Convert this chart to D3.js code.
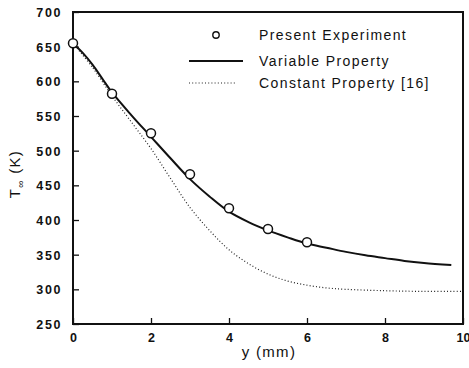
<!DOCTYPE html>
<html>
<head>
<meta charset="utf-8">
<script src="https://cdn.jsdelivr.net/npm/d3@7"></script>
<style>
  html, body { margin: 0; padding: 0; background: #fff; }
  svg { display: block; }
  text { font-family: "Liberation Sans", Arial, Helvetica, sans-serif; fill: #111; }
</style>
</head>
<body>
<svg id="chart" width="469" height="368"></svg>
<script>
// Data
const expX = [0, 1, 2, 3, 4, 5, 6];
const expY = [655, 582, 525, 466, 417, 387, 368];

const varX = [0, 0.25, 0.5, 0.75, 1, 1.5, 2, 2.5, 3, 3.5, 4, 4.5, 5, 5.5, 6, 6.5, 7, 7.5, 8, 8.5, 9, 9.7];
const varY = [655, 641, 624, 604, 584, 551, 520, 489, 459, 434, 412, 397, 385, 375, 366, 360, 354, 349, 345, 341, 338, 335];

const conX = [0, 0.5, 1, 1.5, 2, 2.5, 3, 3.5, 4, 4.5, 5, 5.5, 6, 6.5, 7, 8, 9, 10];
const conY = [655, 620, 579, 541, 503, 460, 418, 385, 357, 337, 322, 312, 306, 302, 300, 298, 297, 297];

const xTicks = [0, 2, 4, 6, 8, 10];
const yTicks = [250, 300, 350, 400, 450, 500, 550, 600, 650, 700];

const legendLabels = ["Present Experiment", "Variable Property", "Constant Property [16]"];

const svg = d3.select("#chart");
const mLeft = 73, mRight = 463, mTop = 12, mBottom = 324;

const x = d3.scaleLinear().domain([0, 10]).range([mLeft, mRight]);
const y = d3.scaleLinear().domain([250, 700]).range([mBottom, mTop]);

// Frame
svg.append("rect")
  .attr("x", mLeft).attr("y", mTop)
  .attr("width", mRight - mLeft).attr("height", mBottom - mTop)
  .attr("fill", "none").attr("stroke", "#111").attr("stroke-width", 2);

// Axes with inward ticks
const yAxis = d3.axisLeft(y).tickValues(yTicks).tickSizeInner(-6).tickSizeOuter(0).tickPadding(11);
const gy = svg.append("g").attr("transform", `translate(${mLeft},0)`).call(yAxis);
gy.select(".domain").remove();
gy.selectAll("line").attr("stroke", "#111").attr("stroke-width", 1.3);
gy.selectAll("text")
  .style("font-size", "12.5px").style("font-weight", "bold")
  .style("letter-spacing", "1.6px").attr("fill", "#111")
  .attr("dy", "0.35em");

const xAxis = d3.axisBottom(x).tickValues(xTicks).tickSizeInner(-6).tickSizeOuter(0).tickPadding(9);
const gx = svg.append("g").attr("transform", `translate(0,${mBottom})`).call(xAxis);
gx.select(".domain").remove();
gx.selectAll("line").attr("stroke", "#111").attr("stroke-width", 1.3);
gx.selectAll("text")
  .style("font-size", "12.5px").style("font-weight", "bold")
  .attr("fill", "#111");

// Axis titles
svg.append("text")
  .attr("x", (mLeft + mRight) / 2 + 1).attr("y", 357)
  .attr("text-anchor", "middle")
  .style("font-size", "15px").style("letter-spacing", "1.3px")
  .text("y (mm)");

const yt = svg.append("text")
  .attr("transform", "translate(20,174) rotate(-90)")
  .attr("text-anchor", "middle")
  .style("font-size", "15px").style("letter-spacing", "1.3px");
yt.append("tspan").text("T");
yt.append("tspan").attr("dy", "4").style("font-size", "10px").text("∞");
yt.append("tspan").attr("dy", "-4").text(" (K)");

// Lines
const line = d3.line().x(d => x(d[0])).y(d => y(d[1])).curve(d3.curveCatmullRom.alpha(0.5));

svg.append("path")
  .datum(conX.map((v, i) => [v, conY[i]]))
  .attr("d", line)
  .attr("fill", "none").attr("stroke", "#222").attr("stroke-width", 1.2)
  .attr("stroke-dasharray", "1,2.2");

svg.append("path")
  .datum(varX.map((v, i) => [v, varY[i]]))
  .attr("d", line)
  .attr("fill", "none").attr("stroke", "#111").attr("stroke-width", 2);

// Experiment markers
svg.selectAll("circle.exp")
  .data(expX.map((v, i) => [v, expY[i]]))
  .enter().append("circle")
  .attr("class", "exp")
  .attr("cx", d => x(d[0])).attr("cy", d => y(d[1]))
  .attr("r", 4.5)
  .attr("fill", "#fff").attr("stroke", "#111").attr("stroke-width", 1.5);

// Legend
const lg = svg.append("g");
const lx1 = 189, lx2 = 243, tx = 259;
const rows = [35, 61, 83];
lg.append("circle").attr("cx", (lx1 + lx2) / 2).attr("cy", rows[0]).attr("r", 3.2)
  .attr("fill", "#fff").attr("stroke", "#111").attr("stroke-width", 1.4);
lg.append("line").attr("x1", lx1).attr("x2", lx2).attr("y1", rows[1]).attr("y2", rows[1])
  .attr("stroke", "#111").attr("stroke-width", 2);
lg.append("line").attr("x1", lx1).attr("x2", 235).attr("y1", rows[2]).attr("y2", rows[2])
  .attr("stroke", "#222").attr("stroke-width", 1.2).attr("stroke-dasharray", "1,2.2");
legendLabels.forEach((t, i) => {
  lg.append("text")
    .attr("x", tx).attr("y", rows[i]).attr("dy", "0.36em")
    .style("font-size", "14px").style("letter-spacing", "1.4px")
    .text(t);
});
</script>
</body>
</html>
